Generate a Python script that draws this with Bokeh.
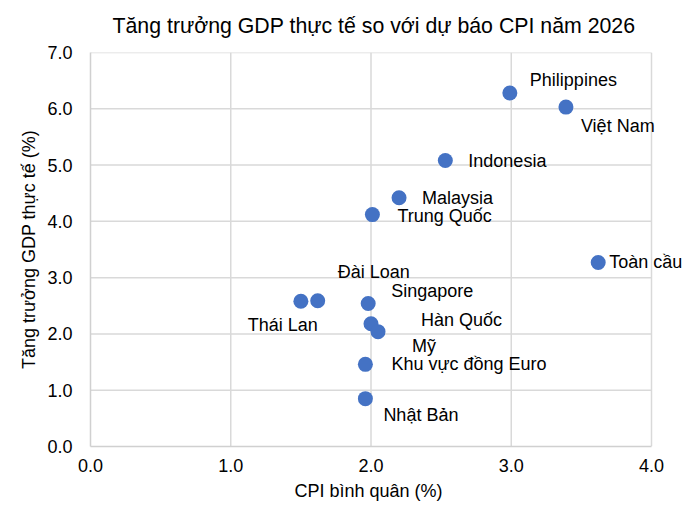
from bokeh.plotting import figure
from bokeh.models import ColumnDataSource, FixedTicker, Range1d, LabelSet, Title
from bokeh.embed import file_html
from bokeh.resources import INLINE
from bokeh.core.properties import field, value

# ---- data ----
countries = ["Philippines", "Việt Nam", "Indonesia", "Malaysia", "Trung Quốc",
             "Toàn cầu", "Đài Loan", "Thái Lan", "Singapore", "Hàn Quốc", "Mỹ",
             "Khu vực đồng Euro", "Nhật Bản"]
cpi = [2.99, 3.39, 2.53, 2.20, 2.01, 3.62, 1.62, 1.50, 1.98, 2.00, 2.05, 1.96, 1.96]
gdp = [6.28, 6.03, 5.08, 4.42, 4.12, 3.27, 2.59, 2.58, 2.54, 2.18, 2.04, 1.46, 0.85]

x_ticks = [0, 1, 2, 3, 4]
x_tick_labels = ["0.0", "1.0", "2.0", "3.0", "4.0"]
y_ticks = [0, 1, 2, 3, 4, 5, 6, 7]
y_tick_labels = ["0.0", "1.0", "2.0", "3.0", "4.0", "5.0", "6.0", "7.0"]

title_text = "Tăng trưởng GDP thực tế so với dự báo CPI năm 2026"
x_title = "CPI bình quân (%)"
y_title = "Tăng trưởng GDP thực tế (%)"

# ---- label placement (style, screen px; dy positive = downwards) ----
label_dx = [20, 15, 23, 23, 25, 11, 20, 17, 23, 50, 34, 26, 18]
label_dy = [-13, 19, 0, 0, 1, 0, -29, 24, -13, -4, 14, 0, 16]
label_align = ["left"] * 7 + ["right"] + ["left"] * 5

FONT = "Liberation Sans"

# ---- layout (px) ----
W, H = 694, 509
LEFT, TOP = 90, 52
AXIS_RIGHT_PX = 651          # where x = 4.0 sits
BOTTOM = 63
X0, X1 = x_ticks[0], x_ticks[-1]
Y0, Y1 = y_ticks[0], y_ticks[-1]
# frame runs to the right edge so labels may overflow past x = 4
x_end = X1 * (W - LEFT) / (AXIS_RIGHT_PX - LEFT)

src = ColumnDataSource(dict(x=cpi, y=gdp, name=countries,
                            dx=label_dx, dy=[-d for d in label_dy],
                            align=label_align))

p = figure(width=W, height=H, output_backend="svg", toolbar_location=None,
           x_range=Range1d(X0, x_end), y_range=Range1d(Y0, Y1),
           min_border_left=LEFT, min_border_right=0, min_border_top=TOP,
           min_border_bottom=BOTTOM, title=title_text)

p.outline_line_color = None
p.background_fill_color = "white"
p.border_fill_color = "white"

p.title.align = "left"
p.title.offset = 22
p.title.vertical_align = "top"
p.title.text_font = FONT
p.title.text_font_size = "21.3px"
p.title.text_font_style = "normal"
p.title.text_color = "#000000"
p.title.standoff = 26

for ax in (p.xaxis[0], p.yaxis[0]):
    ax.axis_line_color = "#d0d0d0"
    ax.axis_line_width = 1.5
    ax.major_tick_in = 0
    ax.major_tick_out = 0
    ax.minor_tick_in = 0
    ax.minor_tick_out = 0
    ax.major_label_text_font = FONT
    ax.major_label_text_font_size = "18px"
    ax.major_label_text_color = "#000000"
    ax.axis_label_text_font = FONT
    ax.axis_label_text_font_size = "18px"
    ax.axis_label_text_font_style = "normal"
    ax.axis_label_text_color = "#000000"

p.xaxis.bounds = (X0, X1)
p.yaxis.bounds = (Y0, Y1)
p.xaxis.ticker = FixedTicker(ticks=x_ticks)
p.yaxis.ticker = FixedTicker(ticks=y_ticks)
p.xaxis.major_label_overrides = dict(zip(x_ticks, x_tick_labels))
p.yaxis.major_label_overrides = dict(zip(y_ticks, y_tick_labels))
p.yaxis.axis_label = y_title
p.xaxis.major_label_standoff = 12
p.yaxis.major_label_standoff = 18
p.yaxis.axis_label_standoff = 5

# x-axis title centred under the 0..4 span (not the wider frame)
xt = Title(text=x_title, align="left", offset=204, standoff=8,
           text_font=FONT, text_font_size="18px", text_font_style="normal",
           text_color="#000000")
p.add_layout(xt, "below")

# grid drawn only over the 0..4 x 0..7 area
p.xgrid.visible = False
p.ygrid.visible = False
GRID = "#d9d9d9"
p.segment(x0=x_ticks[1:], y0=[Y0] * (len(x_ticks) - 1),
          x1=x_ticks[1:], y1=[Y1] * (len(x_ticks) - 1),
          line_color=GRID, line_width=1.5)
p.segment(x0=[X0] * (len(y_ticks) - 1), y0=y_ticks[1:],
          x1=[X1] * (len(y_ticks) - 1), y1=y_ticks[1:],
          line_color=GRID, line_width=1.5)

p.scatter("x", "y", source=src, size=15, fill_color="#4472C4",
          line_color="#4472C4", line_width=0)

labels = LabelSet(x="x", y="y", text="name", source=src,
                  x_offset="dx", y_offset="dy",
                  text_align=field("align"), text_baseline="middle",
                  text_font=value(FONT), text_font_size="18px",
                  text_color="#000000")
p.add_layout(labels)

open("out.html", "w").write(file_html(p, INLINE))
